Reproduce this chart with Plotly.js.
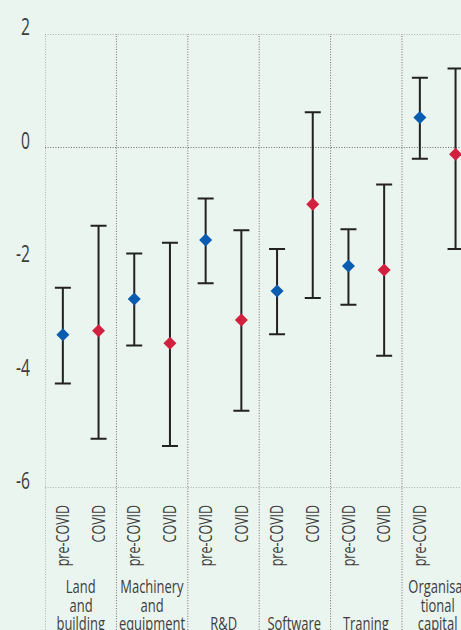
<!DOCTYPE html>
<html>
<head>
<meta charset="utf-8">
<script src="https://cdn.plot.ly/plotly-3.0.1.min.js"></script>
<style>
html,body{margin:0;padding:0;background:#ebf5ef;}
#chart{width:461px;height:630px;}
</style>
</head>
<body>
<div id="chart"></div>
<script>
// ---- data ----
var categories = [
  ["Land", "and", "building"],
  ["Machinery", "and", "equipment"],
  ["R&D"],
  ["Software"],
  ["Traning"],
  ["Organisa-", "tional", "capital"]
];
var groupLabels = ["pre-COVID", "COVID"];

var preValue = [-3.30, -2.67, -1.63, -2.53, -2.09, 0.53];
var preUpper = [-2.47, -1.87, -0.90, -1.79, -1.44, 1.23];
var preLower = [-4.16, -3.49, -2.39, -3.29, -2.77, -0.20];

var covidValue = [-3.23, -3.45, -3.04, -1.00, -2.16, -0.12];
var covidUpper = [-1.38, -1.68, -1.46, 0.62, -0.65, 1.39];
var covidLower = [-5.13, -5.26, -4.64, -2.65, -3.67, -1.79];

var yTicks = [2, 0, -2, -4, -6];
var yGridLines = [2, 0, -6];

// ---- build ----
var FONT = "'Open Sans', 'Noto Sans', Roboto, sans-serif";
var TXT = '#3d3d3d';
var n = categories.length;
var xPre = [], xCov = [], tickvals = [], ticktext = [];
for (var i = 0; i < n; i++) {
  xPre.push(i + 0.25); xCov.push(i + 0.75);
  tickvals.push(i + 0.25, i + 0.75);
  ticktext.push(groupLabels[0], groupLabels[1]);
}
function diff(a, b) { return a.map(function (v, k) { return Math.abs(v - b[k]); }); }

var errStyle = {type: 'data', symmetric: false, color: '#222222', thickness: 2, width: 8};

var tracePre = {
  type: 'scatter', mode: 'markers', name: groupLabels[0],
  x: xPre, y: preValue,
  marker: {symbol: 'diamond', size: 10, color: '#0a5cb0'},
  error_y: Object.assign({array: diff(preUpper, preValue), arrayminus: diff(preValue, preLower)}, errStyle)
};
var traceCov = {
  type: 'scatter', mode: 'markers', name: groupLabels[1],
  x: xCov, y: covidValue,
  marker: {symbol: 'diamond', size: 10, color: '#d2213f'},
  error_y: Object.assign({array: diff(covidUpper, covidValue), arrayminus: diff(covidValue, covidLower)}, errStyle)
};

var W = 461, H = 630, ML = 45, MT = 34, MB = 142;
var catPx = 71.4;
var xMax = (W - ML) / catPx;
var plotH = H - MT - MB;
var GRID = {color: '#6e6e6e', width: 1, dash: '1px,1.6px'};

var shapes = [];
for (var j = 0; j < n; j++) {
  shapes.push({type: 'line', xref: 'x', yref: 'paper', x0: j, x1: j, y0: -(MB + 5) / plotH, y1: 1,
    line: GRID, layer: 'below'});
}
yGridLines.forEach(function (v) {
  shapes.push({type: 'line', xref: 'paper', yref: 'y', x0: 0, x1: 1, y0: v, y1: v,
    line: GRID, layer: 'below'});
});

var annotations = [];
var lineH = 18.5;
categories.forEach(function (lines, ci) {
  var L = lines.length;
  lines.forEach(function (txt, li) {
    var centerPx = 623 - (L - 1 - li) * lineH; // pixel y from top
    annotations.push({
      xref: 'x', yref: 'paper', x: ci + 0.5, y: (H - MB - centerPx) / plotH,
      text: txt, showarrow: false, xanchor: 'center', yanchor: 'middle',
      font: {family: FONT, size: 18, color: TXT}
    });
  });
});

var layout = {
  width: W, height: H,
  margin: {l: ML, r: 0, t: MT, b: MB, pad: 0},
  paper_bgcolor: '#ebf5ef', plot_bgcolor: '#ebf5ef',
  showlegend: false,
  font: {family: FONT, color: TXT},
  xaxis: {
    range: [0, xMax], fixedrange: true,
    tickvals: tickvals, ticktext: ticktext, tickangle: -90,
    tickfont: {family: FONT, size: 19, color: TXT},
    showgrid: false, zeroline: false, showline: false, ticks: '',
    ticklabelstandoff: 12
  },
  yaxis: {
    range: [-6, 2], fixedrange: true,
    tickvals: yTicks, ticktext: yTicks.map(String),
    tickfont: {family: FONT, size: 23, color: TXT},
    showgrid: false, zeroline: false, showline: false, ticks: '',
    ticklabelstandoff: 14, ticklabelshift: -7
  },
  shapes: shapes,
  annotations: annotations
};

// condense text horizontally (the original uses a condensed typeface)
function condense(gd) {
  var specs = [['.xtick text', 0.66], ['.ytick text', 0.68], ['.annotation-text', 0.72]];
  specs.forEach(function (sp) {
    gd.querySelectorAll(sp[0]).forEach(function (t) {
      var x = parseFloat(t.getAttribute('x')) || 0, y = parseFloat(t.getAttribute('y')) || 0;
      var tr = t.getAttribute('transform') || '';
      t.setAttribute('transform', tr + ' translate(' + x + ',' + y + ') scale(' + sp[1] + ',1) translate(' + (-x) + ',' + (-y) + ')');
    });
  });
}

Plotly.newPlot('chart', [tracePre, traceCov], layout, {displayModeBar: false, staticPlot: true}).then(condense);
</script>
</body>
</html>
